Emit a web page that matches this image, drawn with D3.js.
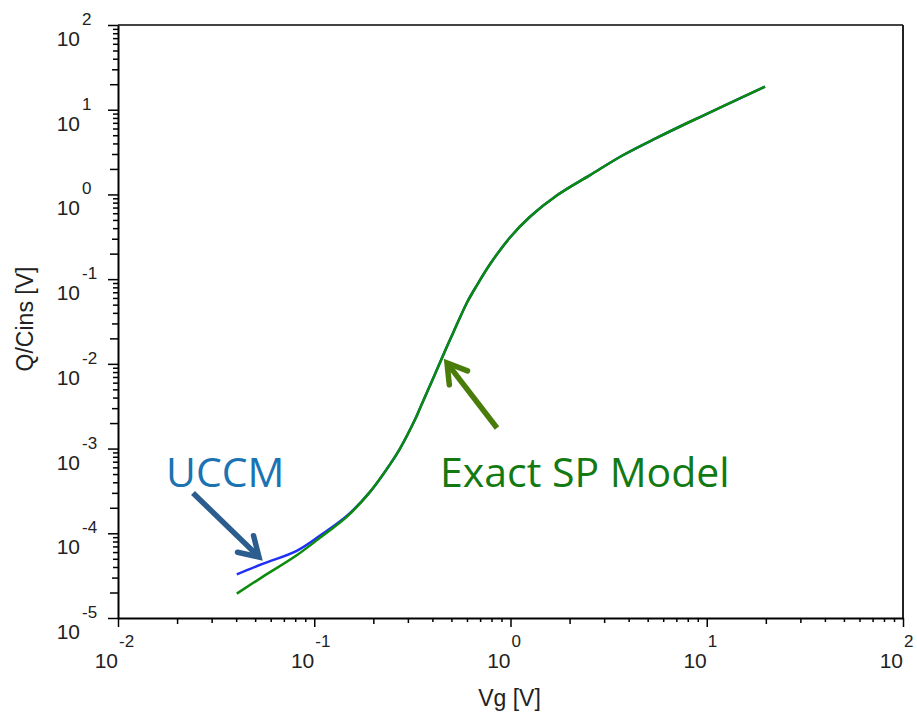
<!DOCTYPE html>
<html>
<head>
<meta charset="utf-8">
<script src="https://cdn.jsdelivr.net/npm/d3@7"></script>
<style>
  body { margin: 0; background: #fff; }
  text { font-family: "Liberation Sans", Arial, sans-serif; }
</style>
</head>
<body>
<script>
// Datos (Vg en V, Q/Cins en V)
const vg = [0.0403, 0.0550, 0.0814, 0.1112, 0.1464, 0.1924, 0.2432, 0.2735, 0.3262, 0.3458,
            0.4043, 0.4637, 0.5112, 0.598, 0.6728, 0.786, 0.994, 1.257, 1.72, 2.542,
            3.757, 5.56, 8.21, 12.14, 19.8];
const qExact = [1.94e-5, 3.10e-5, 5.50e-5, 9.48e-5, 1.56e-4, 3.08e-4, 6.5e-4, 1.0e-3, 2.2e-3, 3.0e-3,
                6.8e-3, 0.0142, 0.0235, 0.052, 0.084, 0.150, 0.31, 0.545, 0.97, 1.69,
                2.92, 4.65, 7.21, 11.0, 18.7];
const qUccm = [3.28e-5, 4.39e-5, 6.2e-5, 1.0e-4, 1.6e-4, 3.08e-4, 6.5e-4, 1.0e-3, 2.2e-3, 3.0e-3,
               6.8e-3, 0.0142, 0.0235, 0.052, 0.084, 0.150, 0.31, 0.545, 0.97, 1.69,
               2.92, 4.65, 7.21, 11.0, 18.7];

const xDecades = [-2, -1, 0, 1, 2];
const yDecades = [2, 1, 0, -1, -2, -3, -4, -5];

const WIDTH = 917, HEIGHT = 713;
let margin = {top: 25, right: 14, bottom: 95, left: 118},
    width = WIDTH - margin.left - margin.right,
    height = HEIGHT - margin.top - margin.bottom;

let svg = d3.select("body").append("svg")
    .attr("width", WIDTH)
    .attr("height", HEIGHT);

let plot = svg.append("g")
    .attr("transform", "translate(" + margin.left + "," + margin.top + ")");

let xScale = d3.scaleLog().domain([1e-2, 1e2]).range([0, width]);
let yScale = d3.scaleLog().domain([1e-5, 1e2]).range([height, 0]);

// marco superior y derecho
plot.append("line").attr("x1", 0).attr("x2", width).attr("y1", 0).attr("y2", 0)
    .attr("stroke", "#444").attr("stroke-width", 2);
plot.append("line").attr("x1", width).attr("x2", width).attr("y1", 0).attr("y2", height)
    .attr("stroke", "#222").attr("stroke-width", 2);

function mantissa(d) { return Math.round(d / Math.pow(10, Math.floor(Math.log10(d) + 1e-9))); }

// eje y
let yAxis = plot.append("g")
    .call(d3.axisLeft(yScale).tickFormat("").tickSizeOuter(0));
yAxis.select(".domain").attr("stroke", "#000").attr("stroke-width", 2);
yAxis.selectAll(".tick line")
    .attr("stroke", "#000").attr("stroke-width", 1.5)
    .attr("x2", d => { let m = mantissa(d); return m === 1 ? -10 : m === 2 ? -8 : m === 3 ? -6 : -5; });

// eje x
let xAxis = plot.append("g")
    .attr("transform", "translate(0," + height + ")")
    .call(d3.axisBottom(xScale).tickFormat("").tickSizeOuter(0));
xAxis.select(".domain").attr("stroke", "#000").attr("stroke-width", 2);
xAxis.selectAll(".tick line")
    .attr("stroke", "#000").attr("stroke-width", 1.5)
    .attr("y2", d => { let m = mantissa(d); return m === 1 ? 9 : m === 2 ? 6 : m === 3 ? 5 : 4; });

// etiquetas de ticks
yDecades.forEach(e => {
    let y = yScale(Math.pow(10, e));
    plot.append("text").attr("x", -38).attr("y", y + 21)
        .attr("text-anchor", "end").attr("font-size", 21).attr("fill", "#222").text("10");
    plot.append("text").attr("x", -36).attr("y", y)
        .attr("font-size", 17).attr("fill", "#222").text(e);
});
xDecades.forEach(e => {
    let x = xScale(Math.pow(10, e));
    plot.append("text").attr("x", x).attr("y", height + 50)
        .attr("text-anchor", "end").attr("font-size", 21).attr("fill", "#222").text("10");
    plot.append("text").attr("x", x + 1).attr("y", height + 29)
        .attr("font-size", 17).attr("fill", "#222").text(e);
});

// titulos de ejes
plot.append("text")
    .attr("x", width / 2 - 1).attr("y", height + 88)
    .attr("text-anchor", "middle").attr("font-size", 23).attr("fill", "#222")
    .text("Vg [V]");
svg.append("text")
    .attr("transform", "translate(33,319) rotate(-90)")
    .attr("text-anchor", "middle").attr("font-size", 23).attr("fill", "#222")
    .text("Q/Cins [V]");

// curvas
let line = (ys) => d3.line()
    .x((d, i) => xScale(vg[i]))
    .y((d, i) => yScale(ys[i]))
    .curve(d3.curveCatmullRom.alpha(0.5))(ys);

plot.append("path").attr("d", line(qUccm))
    .attr("fill", "none").attr("stroke", "#1f2ff5").attr("stroke-width", 2.5);
plot.append("path").attr("d", line(qExact))
    .attr("fill", "none").attr("stroke", "#0a8c0a").attr("stroke-width", 2.5);

// anotaciones
function arrow(x1, y1, x2, y2, color) {
    let a = Math.atan2(y2 - y1, x2 - x1), L = 22, w = 0.55;
    svg.append("line").attr("x1", x1).attr("y1", y1).attr("x2", x2 - 2 * Math.cos(a)).attr("y2", y2 - 2 * Math.sin(a))
        .attr("stroke", color).attr("stroke-width", 5.5);
    svg.append("polyline")
        .attr("points", [[x2 - L * Math.cos(a - w), y2 - L * Math.sin(a - w)], [x2, y2],
                         [x2 - L * Math.cos(a + w), y2 - L * Math.sin(a + w)]].map(p => p.join(",")).join(" "))
        .attr("fill", "none").attr("stroke", color).attr("stroke-width", 5.5)
        .attr("stroke-linecap", "round").attr("stroke-linejoin", "miter");
}
arrow(193, 493, 259, 557, "#2c5d8f");
arrow(497, 428, 447, 363, "#4a7c0a");

svg.append("text").attr("x", 166).attr("y", 487)
    .attr("font-size", 41)
    .attr("fill", "#1b73b3").style("font-family", "'Open Sans', sans-serif")
    .text("UCCM");
svg.append("text").attr("x", 440).attr("y", 487)
    .attr("font-size", 41)
    .attr("fill", "#137a13").style("font-family", "'Open Sans', sans-serif")
    .text("Exact SP Model");
</script>
</body>
</html>
